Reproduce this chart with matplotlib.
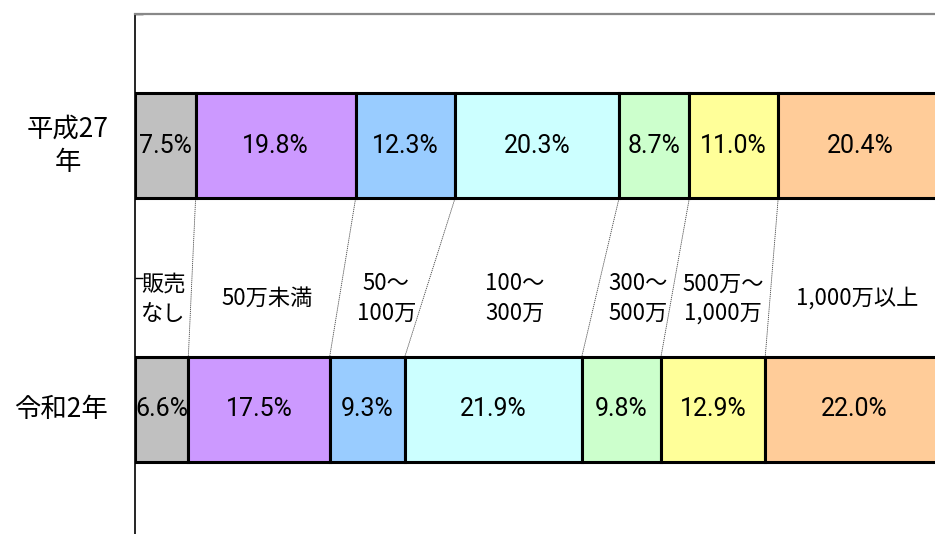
import numpy as np
import matplotlib
matplotlib.use("Agg")
import matplotlib.pyplot as plt

plt.rcParams['font.family'] = ['Noto Sans CJK JP', 'DejaVu Sans']

years = ['平成27\n年', '令和2年']
categories = ['販売\nなし', '50万未満', '50～\n100万', '100～\n300万',
              '300～\n500万', '500万～\n1,000万', '1,000万以上']
h27 = [7.5, 19.8, 12.3, 20.3, 8.7, 11.0, 20.4]
r2 = [6.6, 17.5, 9.3, 21.9, 9.8, 12.9, 22.0]
colors = ['#C0C0C0', '#CC99FF', '#99CCFF', '#CCFFFF', '#CCFFCC', '#FFFF99', '#FFCC99']

fig = plt.figure(figsize=(9.35, 5.34), dpi=100)
ax = fig.add_axes([135 / 935, -7 / 534, 808 / 935, 527 / 534])

bar_h = 0.4
y_top, y_bot = 1, 0
left_top = np.concatenate([[0], np.cumsum(h27)[:-1]])
left_bot = np.concatenate([[0], np.cumsum(r2)[:-1]])

pct_font = ['Roboto', 'DejaVu Sans']
for i in range(len(categories)):
    ax.barh(y_top, h27[i], left=left_top[i], height=bar_h, color=colors[i],
            edgecolor='black', linewidth=2.2, zorder=3)
    ax.barh(y_bot, r2[i], left=left_bot[i], height=bar_h, color=colors[i],
            edgecolor='black', linewidth=2.2, zorder=3)
    ax.text(left_top[i] + h27[i] / 2, y_top, f'{h27[i]:.1f}%', ha='center', va='center',
            fontsize=18, family=pct_font, zorder=4)
    ax.text(left_bot[i] + r2[i] / 2, y_bot, f'{r2[i]:.1f}%', ha='center', va='center',
            fontsize=18, family=pct_font, zorder=4)
    # category name between the bars
    cx = ((left_top[i] + h27[i] / 2) + (left_bot[i] + r2[i] / 2)) / 2
    ax.text(cx, 0.42, categories[i], ha='center', va='center', fontsize=16,
            linespacing=1.35, zorder=4)

# dotted connectors between segment boundaries
bounds_top = np.cumsum(h27)[:-1]
bounds_bot = np.cumsum(r2)[:-1]
for bt, bb in zip(bounds_top, bounds_bot):
    ax.plot([bt, bb], [y_top - bar_h / 2, y_bot + bar_h / 2], color='#444444',
            linestyle=(0, (1.5, 1)), linewidth=0.6, zorder=2)

ax.set_xlim(0, 100)
ax.set_ylim(-0.5, 1.5)
ax.set_xticks([])
ax.set_yticks([-0.5, 0.5, 1.5])
ax.set_yticklabels([])
ax.tick_params(axis='y', direction='in', length=6, width=1)

for s in ['right', 'bottom']:
    ax.spines[s].set_visible(False)
ax.spines['top'].set_color('#888888')
ax.spines['top'].set_linewidth(1.6)
ax.spines['left'].set_color('black')
ax.spines['left'].set_linewidth(1.2)

for y, x, label in zip([y_top, y_bot], [-8.3, -9.1], years):
    ax.text(x, y, label, ha='center', va='center', fontsize=19,
            linespacing=1.3, clip_on=False)

fig.savefig('out.png', dpi=100)
